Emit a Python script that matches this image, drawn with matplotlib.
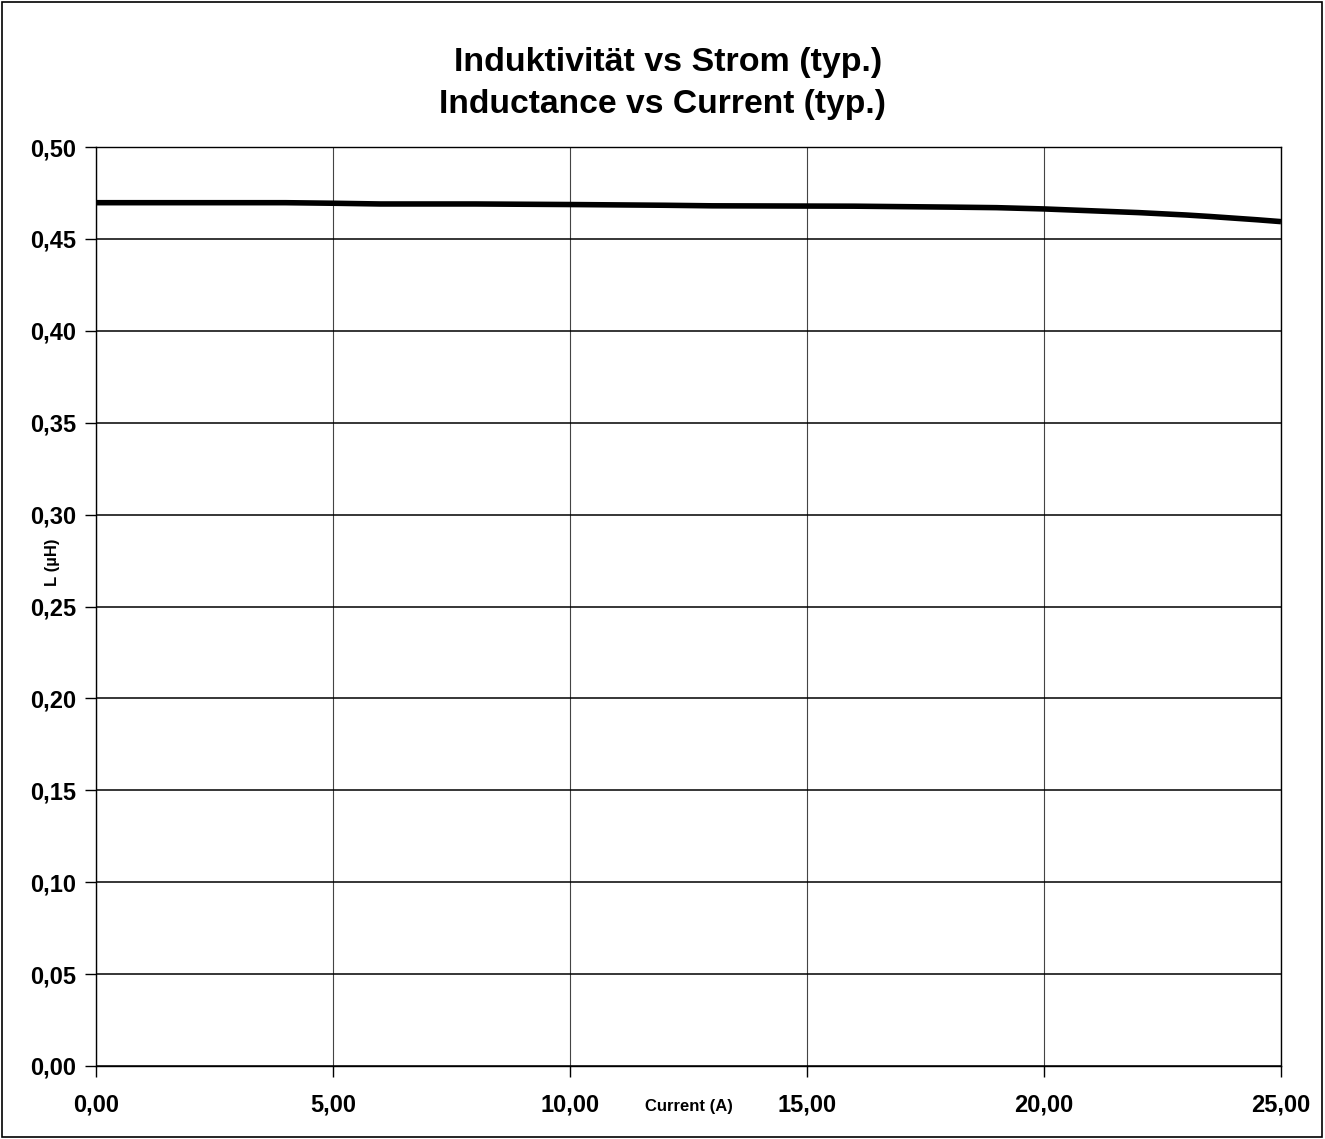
import numpy as np
import matplotlib.pyplot as plt
import matplotlib
from matplotlib.ticker import FuncFormatter

matplotlib.rcParams['font.family'] = 'Liberation Sans'
matplotlib.rcParams['font.weight'] = 'bold'

current = [0, 2, 4, 5, 6, 8, 10, 12, 13, 16, 18, 19, 20, 21, 22, 23, 23.5, 24.5, 25]
induct = [0.4697, 0.4697, 0.4697, 0.4694, 0.4690, 0.4690, 0.4687, 0.4683, 0.4680,
          0.4678, 0.4673, 0.4670, 0.4663, 0.4653, 0.4643, 0.4630, 0.4622, 0.4604, 0.4594]

W, H = 1325, 1139
fig = plt.figure(figsize=(W/100, H/100), dpi=100)
ax = fig.add_axes([96/W, 1-1066/H, (1281-96)/W, (1066-147)/H])

ax.plot(current, induct, color='black', lw=4.0, solid_capstyle='butt', solid_joinstyle='round')

ax.set_xlim(0, 25)
ax.set_ylim(0, 0.5)
ax.set_xticks(np.arange(0, 25.1, 5))
ax.set_yticks(np.arange(0, 0.501, 0.05))
ax.xaxis.set_major_formatter(FuncFormatter(lambda v, p: ("%.2f" % v).replace('.', ',')))
ax.yaxis.set_major_formatter(FuncFormatter(lambda v, p: ("%.2f" % v).replace('.', ',')))
ax.tick_params(axis='both', labelsize=17, length=8, width=1, direction='out', pad=6)
ax.tick_params(axis='x', pad=12)
ax.grid(True, axis='y', color='black', lw=1.1)
ax.grid(True, axis='x', color='#444444', lw=0.8)
for s in ax.spines.values():
    s.set_color('black')
    s.set_linewidth(1)

ax.set_xlabel("Current (A)", fontsize=12, fontweight='bold')
ax.xaxis.set_label_coords((689-96)/(1281-96), -(1107-1066)/(1066-147))
ax.xaxis.label.set_va('center')
ax.set_ylabel("L (µH)", fontsize=12, fontweight='bold')
ax.yaxis.set_label_coords(-(96-52)/(1281-96), (1066-562)/(1066-147))
ax.yaxis.label.set_va('center')

fig.text(668/W, 1-63/H, "Induktivität vs Strom (typ.)", ha='center', va='center', fontsize=24.5, fontweight='bold')
fig.text(662/W, 1-104/H, "Inductance vs Current (typ.)", ha='center', va='center', fontsize=24.2, fontweight='bold')

border = plt.Rectangle((2/W, 2/H), 1-5/W, 1-4/H, transform=fig.transFigure,
                       fill=False, edgecolor='black', lw=1.2)
fig.patches.append(border)

fig.savefig("out.png", dpi=100)
